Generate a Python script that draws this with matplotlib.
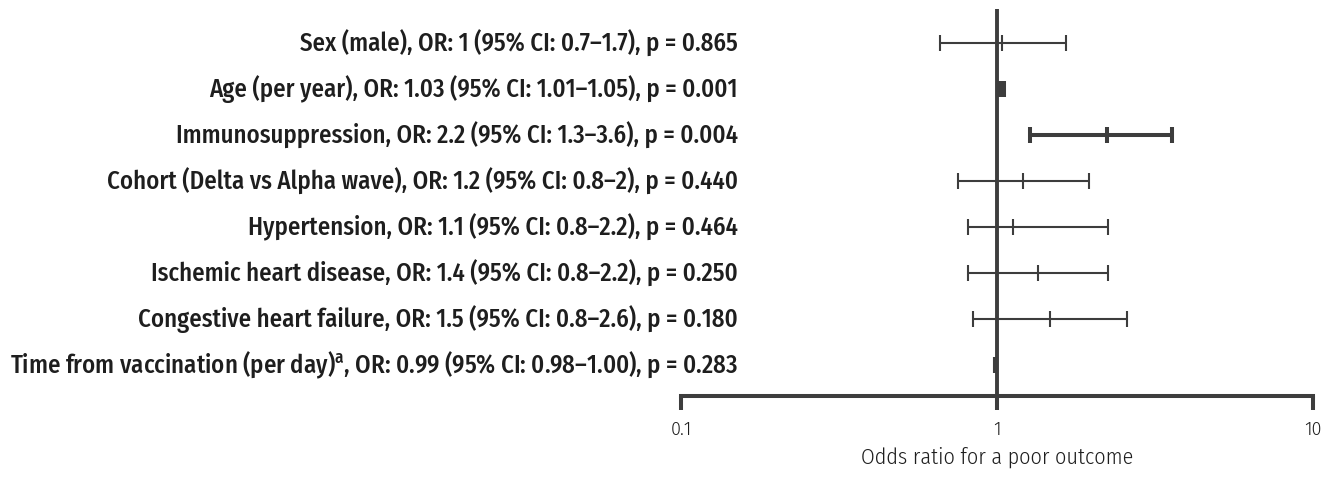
import matplotlib
matplotlib.use("Agg")
import matplotlib.pyplot as plt
import numpy as np

labels = [
    "Sex (male), OR: 1 (95% CI: 0.7–1.7), p = 0.865",
    "Age (per year), OR: 1.03 (95% CI: 1.01–1.05), p = 0.001",
    "Immunosuppression, OR: 2.2 (95% CI: 1.3–3.6), p = 0.004",
    "Cohort (Delta vs Alpha wave), OR: 1.2 (95% CI: 0.8–2), p = 0.440",
    "Hypertension, OR: 1.1 (95% CI: 0.8–2.2), p = 0.464",
    "Ischemic heart disease, OR: 1.4 (95% CI: 0.8–2.2), p = 0.250",
    "Congestive heart failure, OR: 1.5 (95% CI: 0.8–2.6), p = 0.180",
    "Time from vaccination (per day)$^{\\mathbf{a}}$, OR: 0.99 (95% CI: 0.98–1.00), p = 0.283",
]
odds = [1.04, 1.03, 2.23, 1.21, 1.12, 1.35, 1.47, 0.99]
ci_low = [0.66, 1.01, 1.27, 0.75, 0.81, 0.81, 0.84, 0.98]
ci_high = [1.65, 1.05, 3.58, 1.95, 2.24, 2.24, 2.57, 1.00]
significant = [False, True, True, False, False, False, False, False]
xticks = [0.1, 1, 10]
xtick_labels = ["0.1", "1", "10"]

LABEL_FONT = 'Fira Sans Condensed'
TICK_FONT = 'Fira Sans'
plt.rcParams['mathtext.fontset'] = 'custom'
plt.rcParams['mathtext.bf'] = LABEL_FONT + ':medium'
plt.rcParams['mathtext.rm'] = LABEL_FONT

C = "#3d3d3d"
TC = "#1e1e1e"
fig = plt.figure(figsize=(13.33, 4.78), dpi=100)
ax = fig.add_axes([681/1333, 82/478, 632/1333, 387/478])
ax.set_xscale('log')
ax.set_xlim(0.1, 10)
n = len(labels)
ys = np.arange(n, 0, -1)
ax.set_ylim(0.33, 8.74)

ax.axvline(1, 0, 1, color=C, lw=2.8, zorder=3)

texts = []
for i in range(n):
    lw = 2.9 if significant[i] else 1.5
    y = ys[i]
    ax.errorbar([odds[i]], [y], xerr=[[odds[i]-ci_low[i]], [ci_high[i]-odds[i]]],
                fmt='none', ecolor=C, elinewidth=lw, capsize=5.8, capthick=lw, zorder=4)
    ax.plot([odds[i]], [y], marker='|', markersize=11.5, mew=lw, color=C, zorder=4)
    t = ax.text(0.090, y, labels[i], transform=ax.get_yaxis_transform(), ha='right', va='center',
                fontsize=15, fontweight=500, family=LABEL_FONT, color=TC)
    texts.append(t)

for s in ['top', 'right', 'left']:
    ax.spines[s].set_visible(False)
ax.spines['bottom'].set_linewidth(2.9)
ax.spines['bottom'].set_color(C)
ax.set_yticks([])
ax.set_xticks(xticks)
ax.set_xticklabels(xtick_labels)
ax.minorticks_off()
ax.tick_params(axis='x', which='major', direction='out', length=10, width=2.9, color=C,
               pad=8, labelsize=13, labelcolor=TC)
for t in ax.get_xticklabels():
    t.set_family(TICK_FONT)
    t.set_fontweight(300)
xl = ax.set_xlabel("Odds ratio for a poor outcome", fontsize=14, family='Fira Sans Condensed',
                   fontweight=300, color=TC, labelpad=6)

# fit label font size so the longest label spans the same width as the reference
fig.canvas.draw()
r = fig.canvas.get_renderer()
w = texts[-1].get_window_extent(r).width
scale = 729.0 / w
for t in texts:
    t.set_fontsize(15 * scale)
w2 = xl.get_window_extent(r).width
xl.set_fontsize(14 * 273.0 / w2)

fig.savefig("out.png", dpi=100)
